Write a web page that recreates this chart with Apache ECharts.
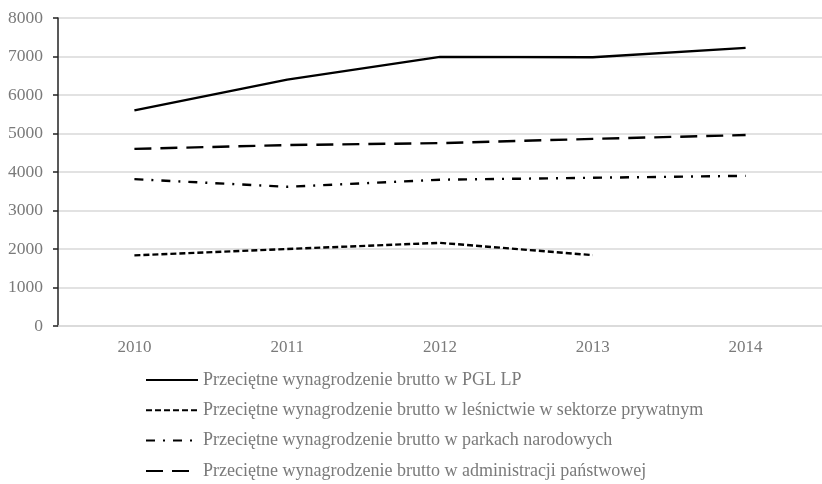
<!DOCTYPE html>
<html>
<head>
<meta charset="utf-8">
<script src="https://cdn.jsdelivr.net/npm/echarts@6/dist/echarts.min.js"></script>
<style>html,body{margin:0;padding:0;background:#fff}#c{width:822px;height:484px}</style>
</head>
<body>
<div id="c"></div>
<script>
const years = ['2010', '2011', '2012', '2013', '2014'];
const pglLp = [5600, 6400, 6990, 6980, 7225];
const privateForestry = [1835, 2000, 2160, 1840, null];
const nationalParks = [3815, 3615, 3800, 3850, 3900];
const stateAdmin = [4600, 4700, 4750, 4860, 4960];
const seriesNames = [
  'Przeciętne wynagrodzenie brutto w PGL LP',
  'Przeciętne wynagrodzenie brutto w leśnictwie w sektorze prywatnym',
  'Przeciętne wynagrodzenie brutto w parkach narodowych',
  'Przeciętne wynagrodzenie brutto w administracji państwowej'
];
const yTicks = { min: 0, max: 8000, interval: 1000 };

const font = 'Liberation Serif';
const grey = '#7a7a7a';
const chart = echarts.init(document.getElementById('c'), null, { renderer: 'canvas' });
function line(name, data, type) {
  return {
    name: name, type: 'line', data: data, symbol: 'none', connectNulls: false,
    lineStyle: { color: '#000', width: 2.4, type: type, cap: 'butt' },
    itemStyle: { color: '#000' }
  };
}
chart.setOption({
  animation: false,
  backgroundColor: '#fff',
  textStyle: { fontFamily: font },
  grid: { left: 58, top: 18, bottom: 158, width: 771, containLabel: false },
  xAxis: {
    type: 'category', data: years, boundaryGap: true,
    axisLine: { lineStyle: { color: '#d9d9d9', width: 1.5 } },
    axisTick: { show: false },
    axisLabel: { color: grey, fontSize: 17, fontFamily: font, margin: 13 }
  },
  yAxis: {
    type: 'value', min: yTicks.min, max: yTicks.max, interval: yTicks.interval,
    axisLine: { show: true, lineStyle: { color: '#222', width: 1.5 } },
    axisTick: { show: true, length: 5, lineStyle: { color: '#222', width: 1.5 } },
    axisLabel: { color: grey, fontSize: 17.5, fontFamily: font, margin: 15, formatter: v => String(v) },
    splitLine: { lineStyle: { color: '#d9d9d9', width: 1.5 } }
  },
  legend: {
    orient: 'vertical', left: 145, top: 371, height: 113, width: 677, padding: 0,
    itemWidth: 52, itemHeight: 14, itemGap: 12.3,
    itemStyle: { color: 'transparent', borderWidth: 0, opacity: 0 },
    textStyle: { color: grey, fontSize: 18, lineHeight: 18, fontFamily: font },
    data: seriesNames
  },
  series: [
    line(seriesNames[0], pglLp, 'solid'),
    line(seriesNames[1], privateForestry, [6, 3]),
    line(seriesNames[2], nationalParks, [9, 8, 2, 8]),
    line(seriesNames[3], stateAdmin, [17, 9])
  ]
});
</script>
</body>
</html>
